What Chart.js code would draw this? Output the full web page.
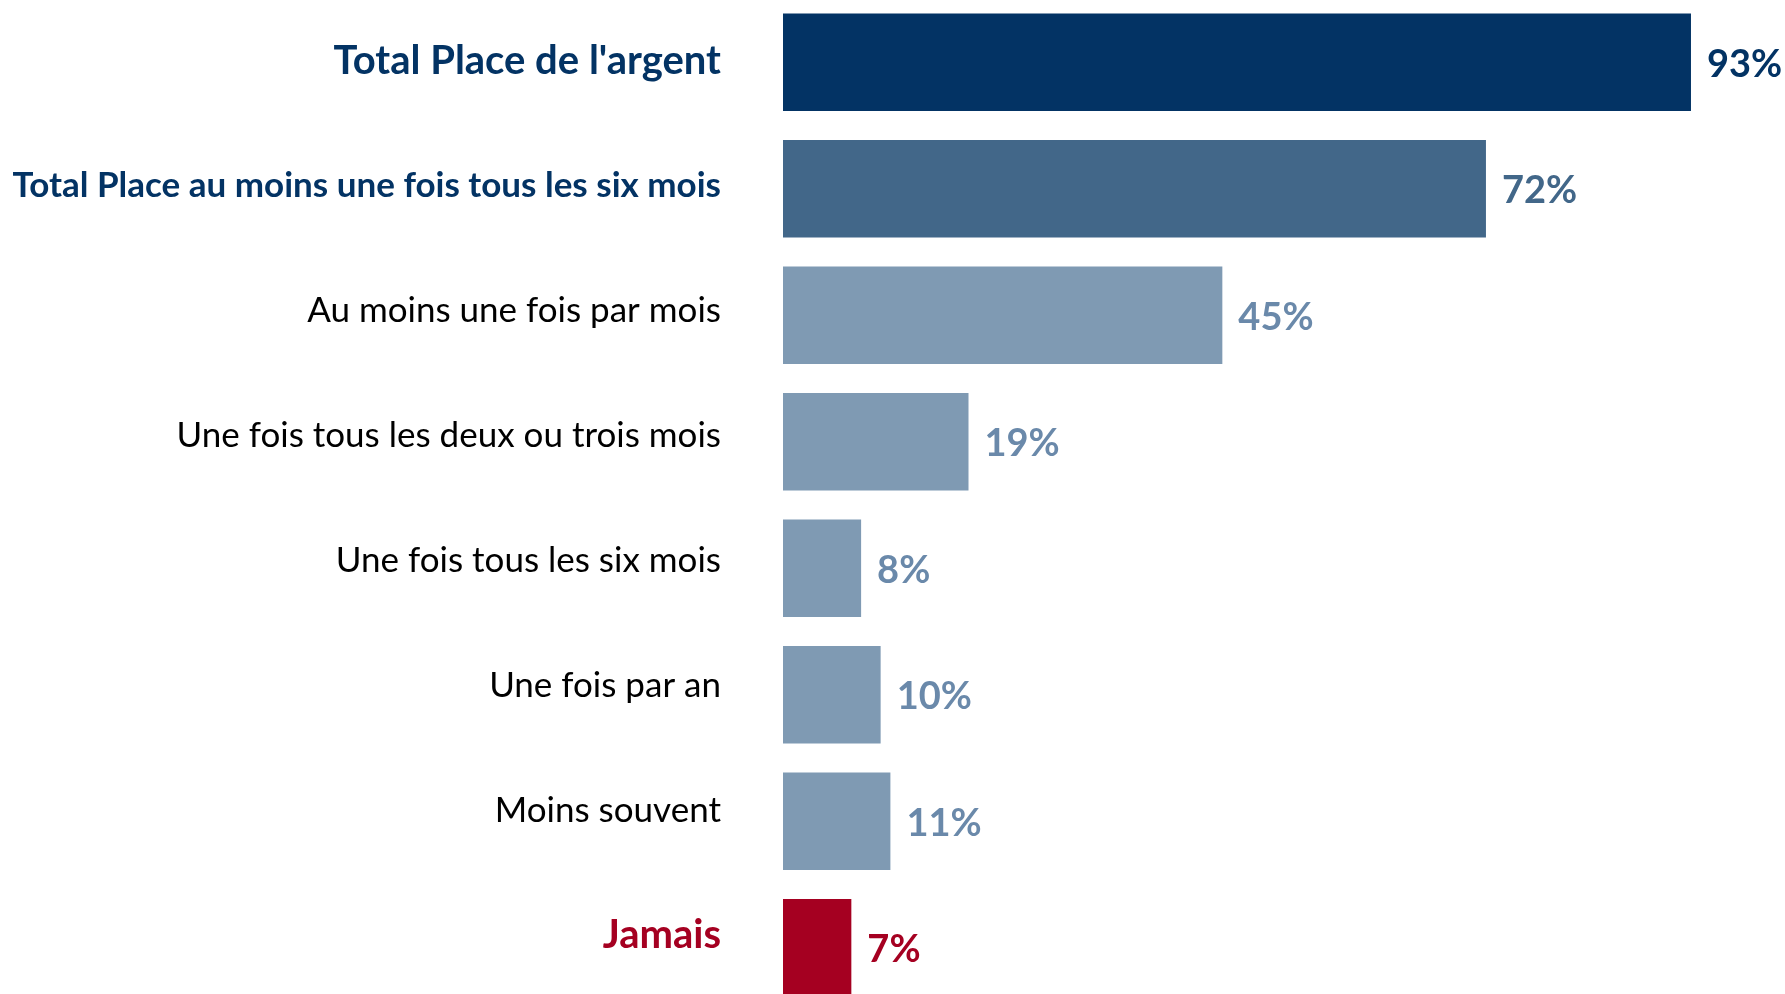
<!DOCTYPE html>
<html>
<head>
<meta charset="utf-8">
<script src="https://cdn.jsdelivr.net/npm/chart.js@4.4.1/dist/chart.umd.min.js"></script>
<style>
html,body{margin:0;padding:0;background:#fff;overflow:hidden;width:1785px;height:994px;}
#wrap{position:relative;width:1785px;height:1012px;margin-top:-1px;}
</style>
</head>
<body>
<div id="wrap"><canvas id="c"></canvas></div>
<script>
const categories = [
  "Total Place de l'argent",
  "Total Place au moins une fois tous les six mois",
  "Au moins une fois par mois",
  "Une fois tous les deux ou trois mois",
  "Une fois tous les six mois",
  "Une fois par an",
  "Moins souvent",
  "Jamais"
];
const values = [93, 72, 45, 19, 8, 10, 11, 7];
const valueLabels = ["93%", "72%", "45%", "19%", "8%", "10%", "11%", "7%"];

const barColors = ["#033364", "#426789", "#7F9AB3", "#7F9AB3", "#7F9AB3", "#7F9AB3", "#7F9AB3", "#A50021"];
const valueColors = ["#033364", "#426789", "#6A89AA", "#6A89AA", "#6A89AA", "#6A89AA", "#6A89AA", "#A50021"];
const tickColors = ["#033364", "#033364", "#000000", "#000000", "#000000", "#000000", "#000000", "#A50021"];
const FONT = "Lato, 'Open Sans', sans-serif";
const tickFonts = [
  {family: FONT, size: 40, weight: "bold"},
  {family: FONT, size: 35, weight: "bold"},
  {family: FONT, size: 35, weight: "normal"},
  {family: FONT, size: 35, weight: "normal"},
  {family: FONT, size: 35, weight: "normal"},
  {family: FONT, size: 35, weight: "normal"},
  {family: FONT, size: 35, weight: "normal"},
  {family: FONT, size: 40, weight: "bold"}
];
const LABEL_MIN = -0.4956;
const LABEL_MAX = 7.607;

const valueLabelPlugin = {
  id: "valueLabels",
  afterDatasetsDraw(chart) {
    const ctx = chart.ctx;
    const meta = chart.getDatasetMeta(0);
    ctx.save();
    ctx.textAlign = "left";
    ctx.textBaseline = "middle";
    meta.data.forEach((bar, i) => {
      ctx.font = "bold 38px " + FONT;
      ctx.fillStyle = valueColors[i];
      ctx.fillText(valueLabels[i], bar.x + 16, bar.y + 2);
    });
    ctx.restore();
  }
};

new Chart(document.getElementById("c"), {
  type: "bar",
  data: {
    labels: categories,
    datasets: [{
      data: values,
      backgroundColor: barColors,
      borderWidth: 0,
      barPercentage: 0.772,
      categoryPercentage: 1.0,
      yAxisID: "y"
    }]
  },
  options: {
    indexAxis: "y",
    responsive: true,
    maintainAspectRatio: false,
    animation: false,
    layout: {padding: {left: 0, right: 0, top: 0, bottom: 0}},
    plugins: {legend: {display: false}, tooltip: {enabled: false}},
    scales: {
      x: {
        display: false,
        min: 0,
        max: 102.63,
        grid: {display: false}
      },
      y: {
        type: "category",
        display: false,
        position: "left"
      },
      yl: {
        type: "linear",
        position: "left",
        reverse: true,
        offset: false,
        bounds: "data",
        min: LABEL_MIN,
        max: LABEL_MAX,
        grid: {
          display: true,
          offset: false,
          drawOnChartArea: false,
          drawTicks: true,
          tickLength: 62,
          color: "rgba(0,0,0,0)"
        },
        border: {display: false},
        afterBuildTicks(scale) {
          scale.ticks = categories.map((_, i) => ({value: i}));
          scale.min = LABEL_MIN;
          scale.max = LABEL_MAX;
        },
        afterFit(scale) {
          scale.width = 783;
          scale.paddingTop = 0;
          scale.paddingBottom = 0;
        },
        ticks: {
          autoSkip: false,
          padding: 0,
          callback: (v) => categories[v],
          color: (c) => tickColors[c.index],
          font: (c) => tickFonts[c.index]
        }
      }
    }
  },
  plugins: [valueLabelPlugin]
});
</script>
</body>
</html>
